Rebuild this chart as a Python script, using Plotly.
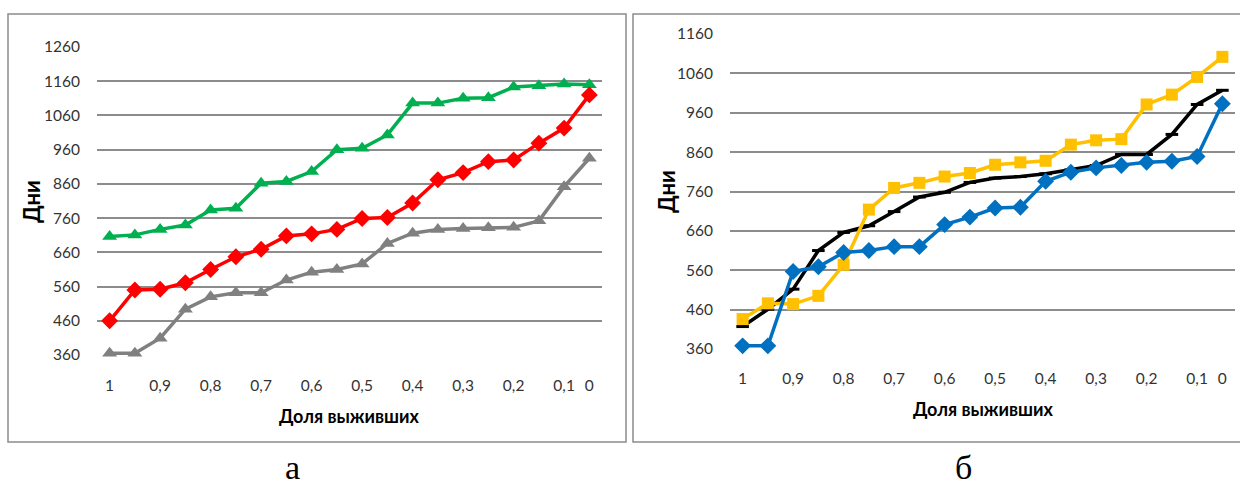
import plotly.graph_objects as go

W, H = 1240, 488

# ---- data ----
x_idx = list(range(20))
x_tickvals = [0, 2, 4, 6, 8, 10, 12, 14, 16, 18, 19]
x_ticktext = ["1", "0,9", "0,8", "0,7", "0,6", "0,5", "0,4", "0,3", "0,2", "0,1", "0"]

left_green = [706, 711, 727, 740, 784, 789, 862, 867, 896, 960, 964, 1003, 1096, 1096, 1110, 1112, 1143, 1147, 1152, 1150]
left_red = [460, 550, 552, 571, 610, 647, 669, 708, 714, 727, 759, 762, 804, 872, 893, 925, 930, 979, 1023, 1120]
left_gray = [365, 365, 409, 494, 530, 542, 542, 579, 602, 610, 626, 686, 716, 727, 730, 732, 733, 752, 852, 935]

right_blue = [368, 368, 557, 569, 605, 610, 620, 620, 676, 695, 718, 720, 786, 809, 820, 826, 834, 837, 849, 983]
right_yellow = [436, 476, 474, 495, 574, 714, 769, 782, 798, 807, 828, 834, 838, 879, 890, 893, 981, 1006, 1051, 1102]
right_black = [417, 461, 512, 610, 656, 673, 709, 746, 758, 783, 794, 798, 805, 815, 826, 854, 854, 905, 981, 1017]

left_yticks = [360, 460, 560, 660, 760, 860, 960, 1060, 1160, 1260]
right_yticks = [360, 460, 560, 660, 760, 860, 960, 1060, 1160]

y_title = "Дни"
x_title = "Доля выживших"
captions = ["а", "б"]


def px(x):
    return x / W


def py(y):
    return 1 - y / H


fig = go.Figure()


def add(series, color, symbol, xa, ya, msize=11, mline=None):
    marker = dict(symbol=symbol, size=msize, color=color)
    if mline:
        marker["line"] = mline
    fig.add_trace(go.Scatter(
        x=x_idx, y=series, mode="lines+markers", xaxis=xa, yaxis=ya,
        line=dict(color=color, width=3.5), marker=marker,
        cliponaxis=False, showlegend=False, hoverinfo="skip"))


add(left_green, "#00B050", "triangle-up", "x", "y", 13)
add(left_red, "#FF0000", "diamond", "x", "y", 13)
add(left_gray, "#808080", "triangle-up", "x", "y", 13)

add(right_black, "#000000", "line-ew", "x2", "y2", 9, dict(color="#000000", width=3))
add(right_yellow, "#FFC000", "square", "x2", "y2", 12)
add(right_blue, "#0070C0", "diamond", "x2", "y2", 13)

tick_font = dict(family="Lato, Open Sans, sans-serif", size=15.5, color="#333333")
grid_color = "#8C8C8C"

xa_common = dict(range=[-0.5, 19.5], tickmode="array", tickvals=x_tickvals, ticktext=x_ticktext,
                 showgrid=False, zeroline=False, showline=False, ticks="", tickfont=tick_font,
                 fixedrange=True)
fig.update_layout(
    xaxis=dict(domain=[px(97), px(602)], anchor="y", ticklabelstandoff=19, **xa_common),
    xaxis2=dict(domain=[px(730), px(1235)], anchor="y2", ticklabelstandoff=18, **xa_common),
    yaxis=dict(domain=[py(355), py(47)], anchor="x", range=[360, 1260], tickmode="array",
               tickvals=left_yticks, ticktext=[str(v) for v in left_yticks],
               showgrid=True, gridcolor=grid_color, gridwidth=1.5, zeroline=False,
               showline=False, ticks="", tickfont=tick_font, ticklabelstandoff=16, fixedrange=True),
    yaxis2=dict(domain=[py(349), py(34)], anchor="x2", range=[360, 1160], tickmode="array",
                tickvals=right_yticks, ticktext=[str(v) for v in right_yticks],
                showgrid=True, gridcolor=grid_color, gridwidth=1.5, zeroline=False,
                showline=False, ticks="", tickfont=tick_font, ticklabelstandoff=16, fixedrange=True),
    width=W, height=H, margin=dict(l=0, r=0, t=0, b=0, pad=0, autoexpand=False),
    paper_bgcolor="white", plot_bgcolor="white",
)

# chart borders
for x0, x1 in [(8, 626), (633, 1245)]:
    fig.add_shape(type="rect", xref="paper", yref="paper",
                  x0=px(x0), x1=px(x1), y0=py(442), y1=py(14),
                  line=dict(color="#8C8C8C", width=1.5), fillcolor="rgba(0,0,0,0)", layer="below")

# axis titles
for xc, yc in [(32, 202), (666, 192)]:
    fig.add_annotation(x=px(xc), y=py(yc), xref="paper", yref="paper", text="<b>" + y_title + "</b>",
                       textangle=-90, showarrow=False,
                       font=dict(family="Lato, Open Sans, sans-serif", size=22, color="#000000"),
                       xanchor="center", yanchor="middle")
for xc, yc in [(349, 416), (983, 409)]:
    fig.add_annotation(x=px(xc), y=py(yc), xref="paper", yref="paper", text="<b>" + x_title + "</b>",
                       showarrow=False,
                       font=dict(family="Lato, Open Sans, sans-serif", size=18, color="#000000"),
                       xanchor="center", yanchor="middle")

# captions
for t, xc in zip(captions, [292, 963]):
    fig.add_annotation(x=px(xc), y=py(487), xref="paper", yref="paper", text=t, showarrow=False,
                       xanchor="center", yanchor="bottom", borderpad=0,
                       font=dict(family="Liberation Serif, Times New Roman, serif", size=34, color="#000000"))

fig.write_html(
    "out.html",
    config={"displayModeBar": False, "responsive": False},
    post_script="document.body.style.margin='0';document.body.style.overflow='hidden';"
                "document.documentElement.style.overflow='hidden';",
)
